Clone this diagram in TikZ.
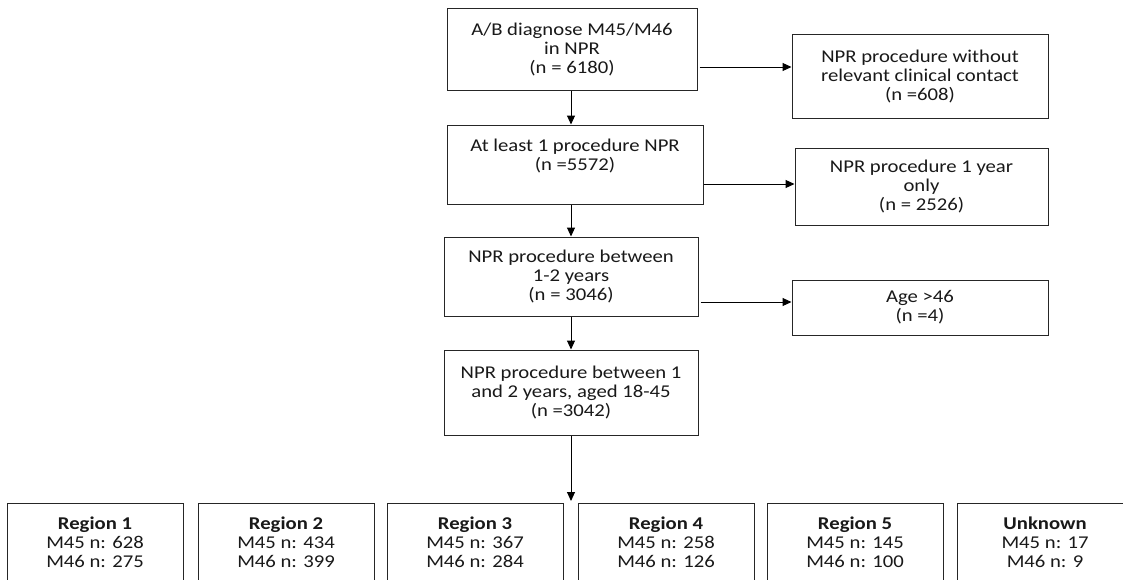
\documentclass[tikz,border=0pt]{standalone}
\usepackage{fontspec}
\setmainfont{Carlito}[FakeStretch=1.15]
\usetikzlibrary{arrows.meta}
\begin{document}
\begin{tikzpicture}[x=1pt,y=-1pt,
  box/.style={draw=black!85, line width=1pt, align=center, inner sep=0pt,
    font=\fontsize{18}{19}\selectfont, text=black!90},
  regbox/.style={box, minimum width=176pt, minimum height=78pt},
  arr/.style={draw=black, line width=1pt, -{Triangle[length=9pt,width=8pt]}}]
\useasboundingbox (0,0) rectangle (1123,579);
\clip (0,0) rectangle (1123,579);
\fill[white] (0,0) rectangle (1123,579);
\coordinate (spine) at (571,0);
% main column
\node[box, minimum width=250pt, minimum height=82pt] (a) at (572,49)
  {A/B diagnose M45/M46\\in NPR\\(n = 6180)};
\node[box, minimum width=256pt, minimum height=79pt] (b) at (575,164.5)
  {At least 1 procedure NPR\\(n =5572)\\\mbox{}};
\node[box, minimum width=254pt, minimum height=79pt] (c) at (571,276.5)
  {NPR procedure between\\1-2 years\\(n = 3046)};
\node[box, minimum width=254pt, minimum height=85pt] (d) at (571,392.5)
  {NPR procedure between 1\\and 2 years, aged 18-45\\(n =3042)};
% exclusions
\node[box, minimum width=256pt, minimum height=84pt] (r1) at (920,76)
  {NPR procedure without\\relevant clinical contact\\(n =608)};
\node[box, minimum width=253pt, minimum height=77pt] (r2) at (921.5,186.5)
  {NPR procedure 1 year\\only\\(n = 2526)};
\node[box, minimum width=256pt, minimum height=55pt] (r3) at (920,307.5)
  {Age >46\\(n =4)};
% regions
\node[regbox] (g1) at (95,542) {\textbf{Region 1}\\M45 n: 628\\M46 n: 275};
\node[regbox] (g2) at (286,542) {\textbf{Region 2}\\M45 n: 434\\M46 n: 399};
\node[regbox] (g3) at (475,542) {\textbf{Region 3}\\M45 n: 367\\M46 n: 284};
\node[regbox] (g4) at (666,542) {\textbf{Region 4}\\M45 n: 258\\M46 n: 126};
\node[regbox] (g5) at (855,542) {\textbf{Region 5}\\M45 n: 145\\M46 n: 100};
\node[regbox] (g6) at (1045,542) {\textbf{Unknown}\\M45 n: 17\\M46 n: 9};
\coordinate (split) at (571,501);
% connectors
\draw[arr] (a.south -| spine) -- (b.north -| spine);
\draw[arr] (b.south -| spine) -- (c.north -| spine);
\draw[arr] (c.south -| spine) -- (d.north -| spine);
\draw[arr] (d.south -| spine) -- (split);
\draw[arr] ([xshift=2pt]a.east |- 0,67) -- (r1.west |- 0,67);
\draw[arr] (b.east |- 0,184) -- (r2.west |- 0,184);
\draw[arr] ([xshift=2pt]c.east |- 0,302) -- (r3.west |- 0,302);
\end{tikzpicture}
\end{document}
